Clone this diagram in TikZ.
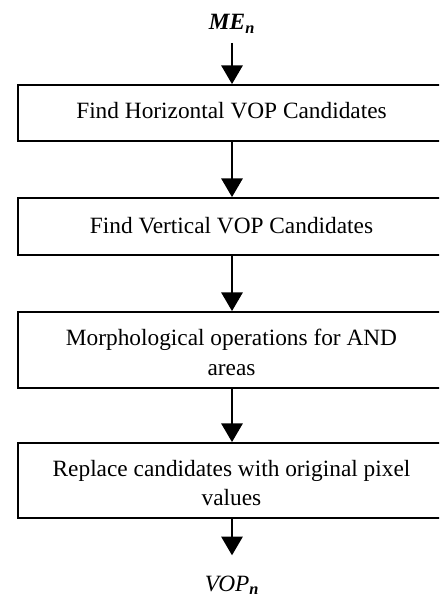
\documentclass[tikz,border=0pt]{standalone}
\usepackage{fontspec}
\setmainfont{Liberation Serif}
\usetikzlibrary{arrows.meta}
\begin{document}
\begin{tikzpicture}[x=0.75pt,y=-0.75pt,
  every node/.style={font=\fontsize{17.5}{22}\selectfont},
  stepbox/.style={draw,line width=1.4pt,minimum width=427*0.75pt,align=center,inner sep=0pt},
  boxtext/.style={align=center,inner sep=0pt,font=\fontsize{17.5}{22}\selectfont},
  flow/.style={line width=1.4pt,-{Triangle[width=16pt,length=14pt]}},
  endlabel/.style={inner sep=0pt}]
\useasboundingbox (0,0) rectangle (439,599);
\clip (0,0) rectangle (439,599);
\node[endlabel] (me) at (232,24) {\textbf{\textit{ME}}\textsubscript{\textbf{\textit{n}}}};
\node[stepbox,minimum height=56*0.75pt,
  label={[boxtext,yshift=1.5pt]center:Find Horizontal VOP Candidates}] (b1) at (231.5,113) {};
\node[stepbox,minimum height=57*0.75pt,
  label={[boxtext,yshift=0.5pt]center:Find Vertical VOP Candidates}] (b2) at (231.5,226.5) {};
\node[stepbox,minimum height=76*0.75pt,
  label={[boxtext,yshift=-1.9pt]center:Morphological operations for AND\\areas}] (b3) at (231.5,350) {};
\node[stepbox,minimum height=75*0.75pt,
  label={[boxtext,yshift=-1.9pt]center:Replace candidates with original pixel\\values}] (b4) at (231.5,480.5) {};
\node[endlabel] (vop) at (232,585) {\textit{VOP}\textsubscript{\textbf{\textit{n}}}};
\draw[flow] ([yshift=-7pt]me.south) -- (me.south |- b1.north);
\draw[flow] (b1.south -| me.south) -- (b2.north -| me.south);
\draw[flow] (b2.south -| me.south) -- (b3.north -| me.south);
\draw[flow] (b3.south -| me.south) -- (b4.north -| me.south);
\draw[flow,shorten >=15pt] (b4.south -| me.south) -- (vop.north);
\end{tikzpicture}
\end{document}
